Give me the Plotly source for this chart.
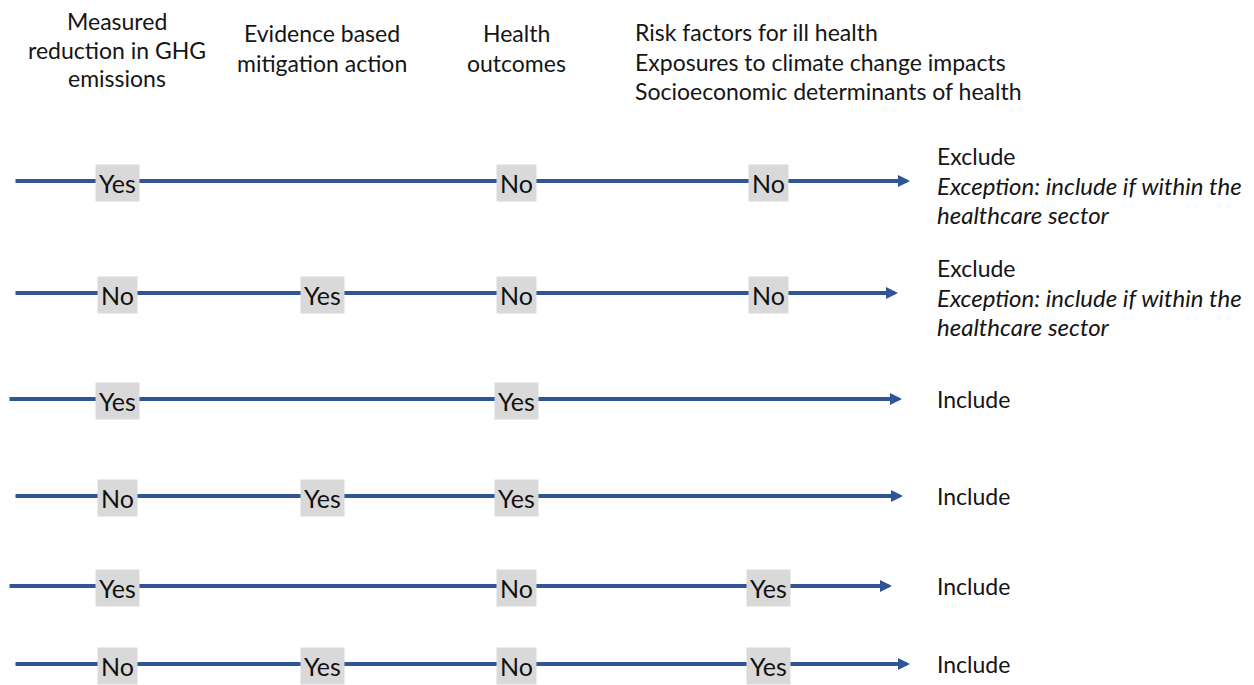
import plotly.graph_objects as go

# ---------------- data ----------------
header_left = [
    ["Measured", "reduction in GHG", "emissions"],
    ["Evidence based", "mitigation action"],
    ["Health", "outcomes"],
]
header_right = ["Risk factors for ill health",
                "Exposures to climate change impacts",
                "Socioeconomic determinants of health"]
# decision per row for each of the 4 criteria ("" = not assessed on that path)
crit_ghg      = ["Yes", "No",  "Yes", "No",  "Yes", "No"]
crit_evidence = ["",    "Yes", "",    "Yes", "",    "Yes"]
crit_health   = ["No",  "No",  "Yes", "Yes", "No",  "No"]
crit_risk     = ["No",  "No",  "",    "",    "Yes", "Yes"]
outcome_main  = ["Exclude", "Exclude", "Include", "Include", "Include", "Include"]
outcome_note  = [["Exception: include if within the", "healthcare sector"],
                 ["Exception: include if within the", "healthcare sector"],
                 [], [], [], []]

# ---------------- layout (positions / styles) ----------------
W, H = 1254, 685
OFF = 8  # page body margin: data coordinates == screen pixels
col_x = [117, 322, 516, 768]
row_y = [181, 293, 399, 496, 586, 664]
line_x0 = [14, 14, 8, 14, 8, 14]
line_x1 = [910, 898, 902, 903, 892, 910]
LINE_H = 29.5
FONT = "Lato, Carlito, Calibri, sans-serif"
BLUE = "#2f5597"
BOXC = "#d9d9d9"
TXT = "#151515"

fig = go.Figure()
fig.add_trace(go.Scatter(x=[OFF, W], y=[OFF, H], mode="markers",
                         marker=dict(opacity=0), hoverinfo="skip", showlegend=False))

ann = []
def text(x, y, s, size=23, anchor="center", italic=False):
    ann.append(dict(x=x, y=y, text=("<i>%s</i>" % s) if italic else s,
                    showarrow=False, xanchor=anchor, yanchor="middle",
                    font=dict(size=size, color=TXT, family=FONT)))

# headers
header_top = [21, 33, 33]
for i, lines in enumerate(header_left):
    for j, s in enumerate(lines):
        text(col_x[i], header_top[i] + j * (LINE_H if i else 28.5), s)
for j, s in enumerate(header_right):
    text(633, 32 + j * LINE_H, s, anchor="left")

crits = [crit_ghg, crit_evidence, crit_health, crit_risk]
for r, y in enumerate(row_y):
    # arrow line
    ann.append(dict(x=line_x1[r], y=y, ax=line_x0[r], ay=y, xref="x", yref="y",
                    axref="x", ayref="y", text="", showarrow=True, arrowhead=2,
                    arrowsize=0.6, arrowwidth=4, arrowcolor=BLUE, standoff=0))
    # decision boxes
    for c, crit in enumerate(crits):
        v = crit[r]
        if v:
            ann.append(dict(x=col_x[c], y=y + 2, text=v, showarrow=False,
                            xanchor="center", yanchor="middle",
                            bgcolor=BOXC, borderpad=3,
                            font=dict(size=25, color="#111111", family=FONT)))
    # outcome
    if outcome_note[r]:
        text(935, y - 25, outcome_main[r], anchor="left")
        for j, s in enumerate(outcome_note[r]):
            text(935, y + 4 + j * LINE_H, s, size=24, anchor="left", italic=True)
    else:
        text(935, y, outcome_main[r], anchor="left")

fig.update_layout(
    width=W - OFF, height=H - OFF, margin=dict(l=0, r=0, t=0, b=0),
    paper_bgcolor="white", plot_bgcolor="white",
    xaxis=dict(range=[OFF, W], visible=False, fixedrange=True),
    yaxis=dict(range=[H, OFF], visible=False, fixedrange=True),
    annotations=ann, showlegend=False,
)
fig.write_html("out.html")
